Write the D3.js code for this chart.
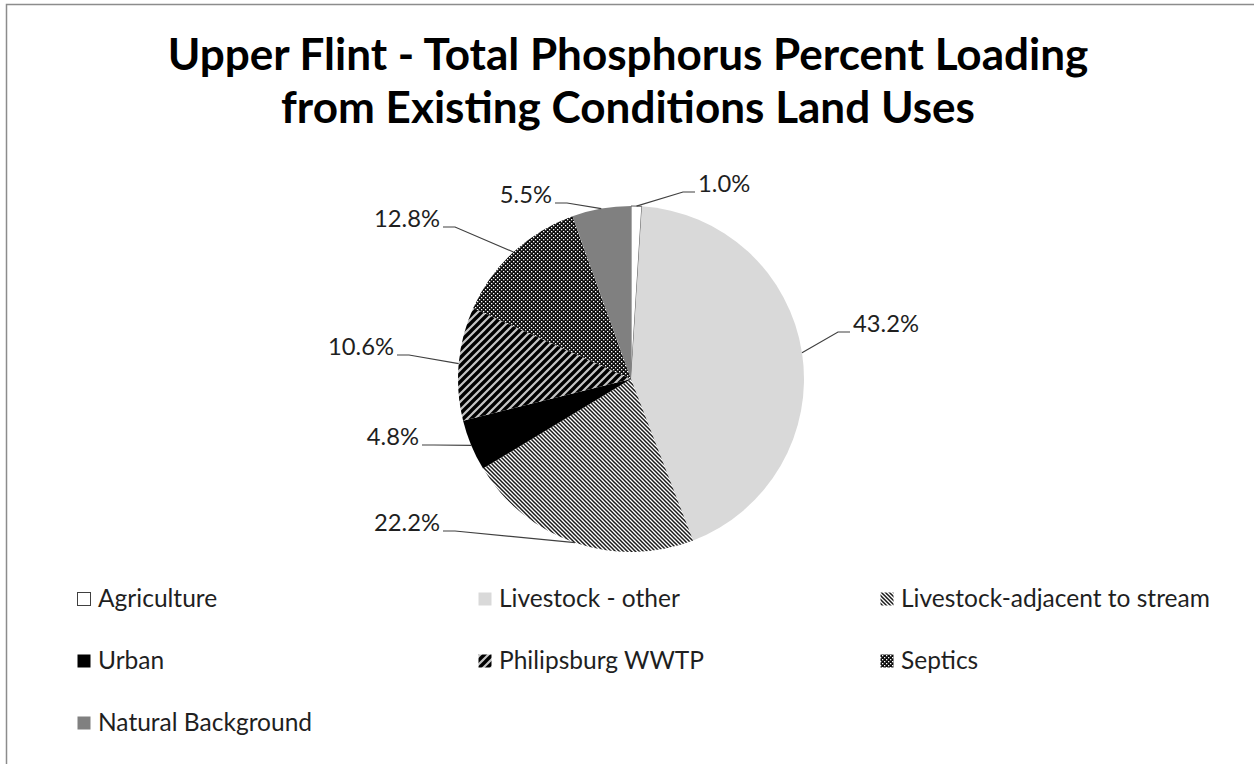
<!DOCTYPE html>
<html>
<head>
<meta charset="utf-8">
<script src="https://cdn.jsdelivr.net/npm/d3@7"></script>
<style>
  body { margin: 0; background: #fff; }
  svg { display: block; }
</style>
</head>
<body>
<svg id="chart"></svg>
<script>
// data
let categories = ['Agriculture', 'Livestock - other', 'Livestock-adjacent to stream', 'Urban',
    'Philipsburg WWTP', 'Septics', 'Natural Background'];
let percents = [1.0, 43.2, 22.2, 4.8, 10.6, 12.8, 5.5];
let titleLines = ['Upper Flint - Total Phosphorus Percent Loading', 'from Existing Conditions Land Uses'];

// styling / layout
let fills = ['#ffffff', '#d9d9d9', 'url(#pat-adj)', '#000000', 'url(#pat-wwtp)', 'url(#pat-sep)', '#808080'];
// knee of each leader line, relative to the pie centre
let labelKnees = [[52, -187], [207, -47], [-176, 152], [-197, 66], [-222, -24], [-176, -152], [-64, -176]];
let FONT = 'Lato, "Open Sans", sans-serif';

let width = 1254, height = 764;
let cx = 631, cy = 379, radius = 173;

let svg = d3.select('#chart')
    .attr('width', width)
    .attr('height', height);

// font size that makes a string a given width
function fitSize(text, weight, target) {
    let t = svg.append('text')
        .attr('font-family', FONT)
        .attr('font-weight', weight)
        .attr('font-size', 100)
        .text(text);
    let w = t.node().getComputedTextLength();
    t.remove();
    return 100 * target / w;
}

let titleSize = fitSize(titleLines[0], 'bold', 921);
let labelSize = fitSize('43.2%', 'normal', 66);
let legendSize = fitSize('Livestock-adjacent to stream', 'normal', 309);

let defs = svg.append('defs');

// narrow downward diagonal
let pAdj = defs.append('pattern')
    .attr('id', 'pat-adj')
    .attr('patternUnits', 'userSpaceOnUse')
    .attr('width', 4).attr('height', 4);
pAdj.append('rect').attr('width', 4).attr('height', 4).attr('fill', '#fff');
pAdj.append('path').attr('d', 'M-1,-1L5,5M-1,3L1,5M3,-1L5,1')
    .attr('stroke', '#1a1a1a').attr('stroke-width', 1.5);

// wide upward diagonal
let pW = defs.append('pattern')
    .attr('id', 'pat-wwtp')
    .attr('patternUnits', 'userSpaceOnUse')
    .attr('width', 8).attr('height', 8);
pW.append('rect').attr('width', 8).attr('height', 8).attr('fill', '#c4c4c4');
pW.append('path').attr('d', 'M-2,10L10,-2M-2,2L2,-2M6,10L10,6')
    .attr('stroke', '#000').attr('stroke-width', 3.4);

// dotted grid for septics
let pS = defs.append('pattern')
    .attr('id', 'pat-sep')
    .attr('patternUnits', 'userSpaceOnUse')
    .attr('width', 4).attr('height', 4);
pS.append('rect').attr('width', 4).attr('height', 4).attr('fill', '#0d0d0d');
pS.append('rect').attr('x', 0).attr('y', 0).attr('width', 1.3).attr('height', 1.3).attr('fill', '#fff');
pS.append('rect').attr('x', 2).attr('y', 2).attr('width', 1.3).attr('height', 1.3).attr('fill', '#fff');

// chart area border (top and left visible)
svg.append('rect')
    .attr('x', 6.5).attr('y', 4.5)
    .attr('width', width + 20).attr('height', height + 20)
    .attr('fill', 'none')
    .attr('stroke', '#8c8c8c')
    .attr('stroke-width', 1.5);

// title
svg.append('text')
    .attr('x', 628)
    .attr('y', 70)
    .attr('text-anchor', 'middle')
    .attr('font-family', FONT)
    .attr('font-weight', 'bold')
    .attr('font-size', titleSize)
    .attr('fill', '#000')
    .selectAll('tspan')
    .data(titleLines)
    .enter().append('tspan')
    .attr('x', 628)
    .attr('dy', (d, i) => i === 0 ? 0 : 53)
    .text(d => d);

// pie
let pie = d3.pie().sort(null).value(d => d);
let arcs = pie(percents);
let arc = d3.arc().innerRadius(0).outerRadius(radius);

let g = svg.append('g')
    .attr('transform', 'translate(' + cx + ',' + cy + ')');

g.selectAll('.slice')
    .data(arcs)
    .enter().append('path')
    .attr('class', 'slice')
    .attr('d', arc)
    .attr('fill', (d, i) => fills[i])
    .attr('stroke', (d, i) => i === 0 ? '#595959' : 'none')
    .attr('stroke-width', 1);

// leader lines and labels
let fmt = d3.format('.1f');
arcs.forEach(function (d, i) {
    let mid = (d.startAngle + d.endAngle) / 2;
    let ex = radius * Math.sin(mid);
    let ey = -radius * Math.cos(mid);
    let k = labelKnees[i];
    let side = k[0] > 0 ? 1 : -1;
    g.append('path')
        .attr('d', 'M' + ex + ',' + ey + 'L' + k[0] + ',' + k[1] + 'L' + (k[0] + side * 12) + ',' + k[1])
        .attr('fill', 'none')
        .attr('stroke', '#404040')
        .attr('stroke-width', 1.2);
    g.append('text')
        .attr('x', k[0] + side * 15)
        .attr('y', k[1])
        .attr('text-anchor', side > 0 ? 'start' : 'end')
        .attr('font-family', FONT)
        .attr('font-size', labelSize)
        .attr('fill', '#1f1f1f')
        .text(fmt(percents[i]) + '%');
});

// legend
let legendCols = [77, 478, 880];
let legendRows = [607, 669, 731];
let legend = svg.selectAll('.legend')
    .data(categories)
    .enter().append('g')
    .attr('class', 'legend')
    .attr('transform', (d, i) => 'translate(' + legendCols[i % 3] + ',' + legendRows[Math.floor(i / 3)] + ')');

legend.append('rect')
    .attr('x', 0.5)
    .attr('y', -14.5)
    .attr('width', 13)
    .attr('height', 13)
    .attr('fill', (d, i) => fills[i])
    .attr('stroke', (d, i) => i === 0 ? '#404040' : 'none');

legend.append('text')
    .attr('x', 21)
    .attr('y', 0)
    .attr('font-family', FONT)
    .attr('font-size', legendSize)
    .attr('fill', '#1f1f1f')
    .text(d => d);
</script>
</body>
</html>
